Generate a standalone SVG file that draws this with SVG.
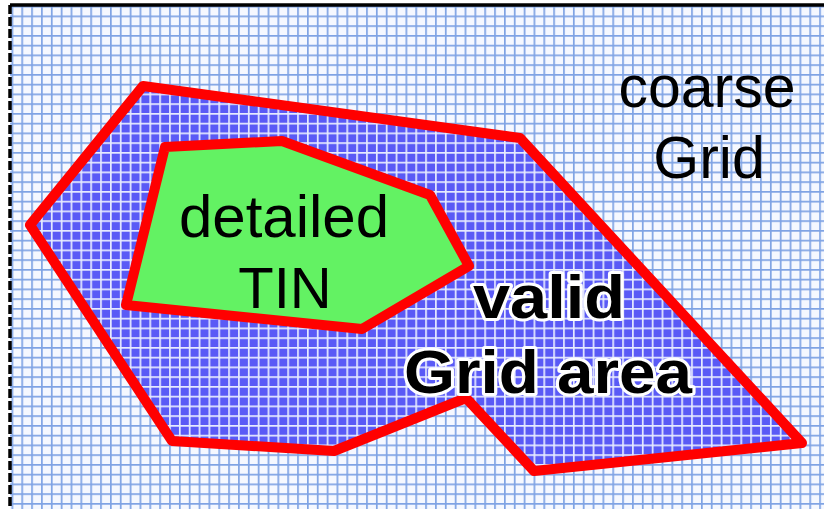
<svg xmlns="http://www.w3.org/2000/svg" width="824" height="509" viewBox="0 0 824 509">
  <style>
    .label { font-family: "Liberation Sans", Arial, sans-serif; fill: #000; text-anchor: middle; }
    .halo { paint-order: stroke; stroke: #fff; stroke-width: 6; stroke-linejoin: round; }
    .boundary { stroke: #ff0000; stroke-width: 10; stroke-linejoin: round; }
  </style>
  <defs>
    <!-- coarse grid: light blue lines on near-white -->
    <pattern id="coarseCell" patternUnits="userSpaceOnUse" x="11.5" y="15.5" width="9.85" height="9.75">
      <rect width="9.85" height="9.75" fill="#f5f8ff"/>
      <rect width="1.7" height="9.75" fill="#7fa3e4"/>
      <rect width="9.85" height="1.7" fill="#7fa3e4"/>
    </pattern>
    <!-- the same grid inside the valid area: white lines on blue -->
    <pattern id="validCell" patternUnits="userSpaceOnUse" x="11.5" y="15.5" width="9.85" height="9.75">
      <rect width="9.85" height="9.75" fill="#5a5af6"/>
      <rect width="1.7" height="9.75" fill="#e6eaff"/>
      <rect width="9.85" height="1.7" fill="#e6eaff"/>
    </pattern>
  </defs>

  <g id="coarse-grid">
    <rect x="0" y="0" width="824" height="509" fill="#ffffff"/>
    <rect x="10" y="5" width="814" height="504" fill="url(#coarseCell)"/>
    <path d="M10 5H824" stroke="#000" stroke-width="3.5" fill="none"/>
    <path d="M10 5V509" stroke="#000" stroke-width="3.5" stroke-dasharray="9 3" fill="none"/>
    <text class="label" x="707" y="107" font-size="59">coarse</text>
    <text class="label" x="709" y="178" font-size="59">Grid</text>
  </g>

  <g id="valid-grid-area">
    <polygon class="boundary" fill="url(#validCell)" points="143,86 520,138 802,443 534,471 466,398 334,451 172,441 30,225"/>
    <text class="label halo" x="549" y="318" font-size="62" font-weight="bold" textLength="152" lengthAdjust="spacingAndGlyphs">valid</text>
    <text class="label halo" x="548" y="393" font-size="62" font-weight="bold" textLength="288" lengthAdjust="spacingAndGlyphs">Grid area</text>
  </g>

  <g id="detailed-tin">
    <polygon class="boundary" fill="#63f263" points="165,147 282,141 430,195 469,266 362,329 126,305"/>
    <text class="label" x="284" y="237" font-size="60">detailed</text>
    <text class="label" x="285" y="308" font-size="58">TIN</text>
  </g>
</svg>
